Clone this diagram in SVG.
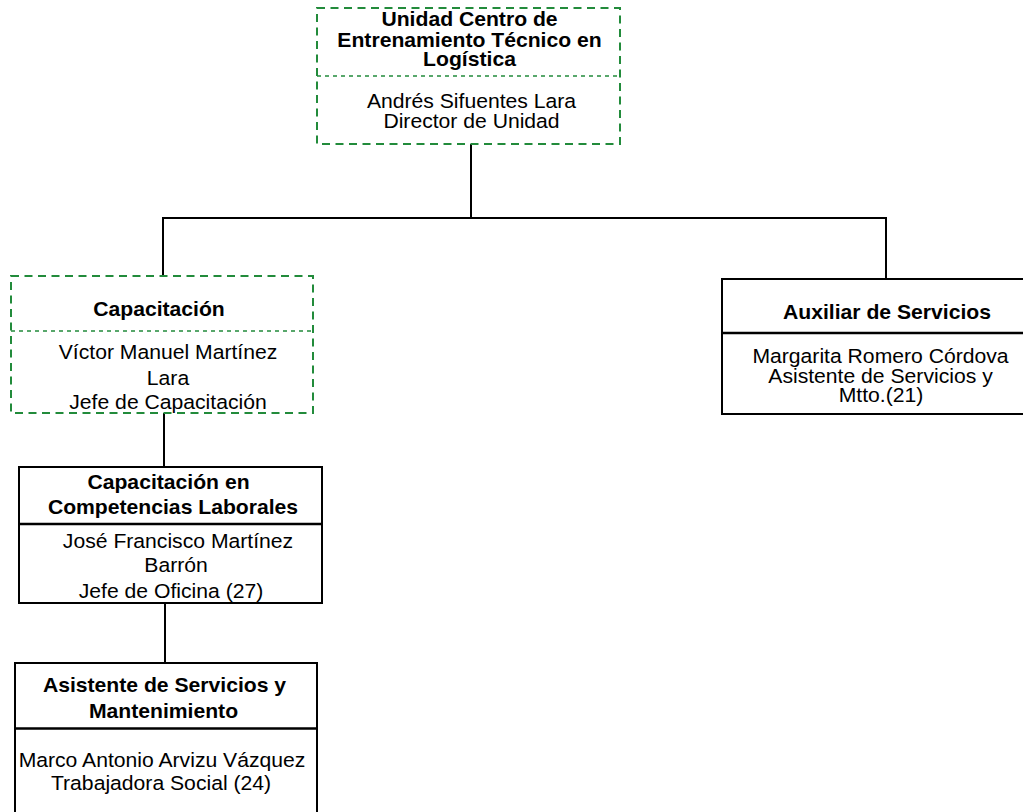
<svg xmlns="http://www.w3.org/2000/svg" width="1023" height="812" viewBox="0 0 1023 812">
<style>
  .t { font-family: "Liberation Sans", Arial, sans-serif; font-size: 19.5px; fill: #000; text-anchor: middle; }
  .b { font-weight: bold; }
  .dash { fill: #fff; stroke: #228b3b; stroke-width: 2; stroke-dasharray: 8 5.5; }
  .ddiv { fill: none; stroke: #228b3b; stroke-width: 1.5; stroke-dasharray: 4 4; }
  .solid { fill: #fff; stroke: #000; stroke-width: 2; }
  .div { fill: none; stroke: #000; stroke-width: 2.5; }
  .conn { fill: none; stroke: #000; stroke-width: 2; }
</style>
<rect width="1023" height="812" fill="#fff"/>
<g id="connectors">
  <line class="conn" x1="471" y1="144" x2="471" y2="218"/>
  <line class="conn" x1="163" y1="218" x2="886" y2="218"/>
  <line class="conn" x1="163" y1="217" x2="163" y2="276"/>
  <line class="conn" x1="886" y1="217" x2="886" y2="279"/>
  <line class="conn" x1="164" y1="413" x2="164" y2="467"/>
  <line class="conn" x1="165" y1="603" x2="165" y2="663"/>
</g>
<g id="node-unidad">
  <rect class="dash" x="317" y="8" width="303" height="136"/>
  <line class="ddiv" x1="317" y1="76" x2="620" y2="76"/>
  <text class="t b" transform="translate(469.5,26) scale(1.085,1)">Unidad Centro de</text>
  <text class="t b" transform="translate(469.5,46.5) scale(1.085,1)">Entrenamiento Técnico en</text>
  <text class="t b" transform="translate(469.5,66) scale(1.085,1)">Logística</text>
  <text class="t" transform="translate(471.5,107.5) scale(1.085,1)">Andrés Sifuentes Lara</text>
  <text class="t" transform="translate(471.5,128) scale(1.085,1)">Director de Unidad</text>
</g>
<g id="node-capacitacion">
  <rect class="dash" x="11" y="276" width="302" height="137"/>
  <line class="ddiv" x1="11" y1="331" x2="313" y2="331"/>
  <text class="t b" transform="translate(159,315.5) scale(1.085,1)">Capacitación</text>
  <text class="t" transform="translate(168,359) scale(1.085,1)">Víctor Manuel Martínez</text>
  <text class="t" transform="translate(168,384.5) scale(1.085,1)">Lara</text>
  <text class="t" transform="translate(168,409) scale(1.085,1)">Jefe de Capacitación</text>
</g>
<g id="node-auxiliar">
  <rect class="solid" x="722" y="279" width="328" height="135"/>
  <line class="div" x1="722" y1="333" x2="1050" y2="333"/>
  <text class="t b" transform="translate(887,319) scale(1.085,1)">Auxiliar de Servicios</text>
  <text class="t" transform="translate(880.5,362.5) scale(1.085,1)">Margarita Romero Córdova</text>
  <text class="t" transform="translate(880.5,382.5) scale(1.085,1)">Asistente de Servicios y</text>
  <text class="t" transform="translate(881,402) scale(1.085,1)">Mtto.(21)</text>
</g>
<g id="node-competencias">
  <rect class="solid" x="19" y="467" width="303" height="136"/>
  <line class="div" x1="19" y1="524" x2="322" y2="524"/>
  <text class="t b" transform="translate(168.5,489) scale(1.085,1)">Capacitación en</text>
  <text class="t b" transform="translate(173,514) scale(1.085,1)">Competencias Laborales</text>
  <text class="t" transform="translate(178,548) scale(1.085,1)">José Francisco Martínez</text>
  <text class="t" transform="translate(176,572) scale(1.085,1)">Barrón</text>
  <text class="t" transform="translate(171,598) scale(1.085,1)">Jefe de Oficina (27)</text>
</g>
<g id="node-asistente">
  <rect class="solid" x="15" y="663" width="302" height="160"/>
  <line class="div" x1="15" y1="728.5" x2="317" y2="728.5"/>
  <text class="t b" transform="translate(164.5,692) scale(1.085,1)">Asistente de Servicios y</text>
  <text class="t b" transform="translate(163.5,718) scale(1.085,1)">Mantenimiento</text>
  <text class="t" transform="translate(162,767) scale(1.085,1)">Marco Antonio Arvizu Vázquez</text>
  <text class="t" transform="translate(161,790) scale(1.085,1)">Trabajadora Social (24)</text>
</g>
</svg>
